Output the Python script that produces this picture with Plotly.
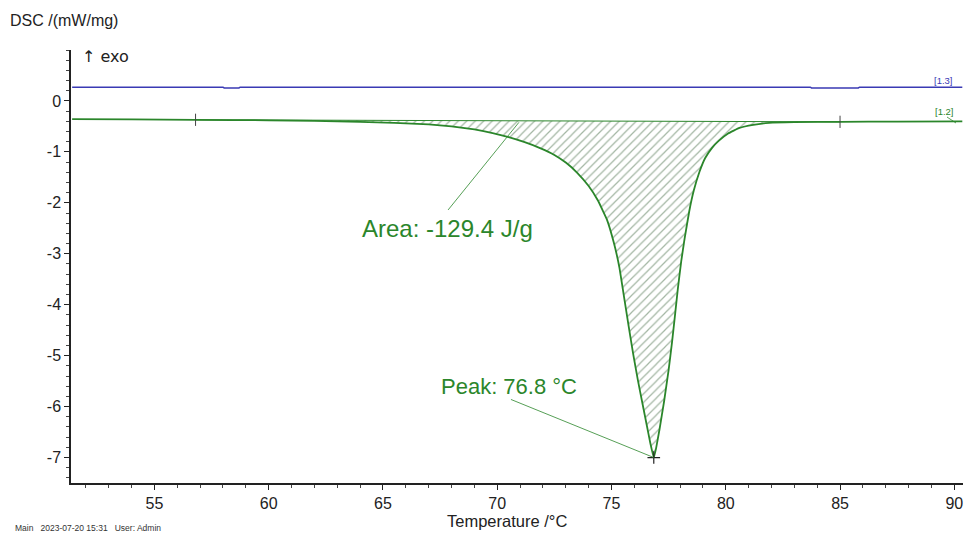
import plotly.graph_objects as go

# ---- data ----
temp_green = [51.4, 54.0, 56.8, 60.0, 62.0, 64.0, 65.5, 67.0, 68.0, 69.0, 69.8, 70.5, 71.2, 71.9,
              72.5, 73.0, 73.5, 74.0, 74.4, 74.8, 75.1, 75.35, 75.55, 75.75, 75.95, 76.15, 76.35, 76.55,
              76.7, 76.85, 76.95, 77.1, 77.3, 77.5, 77.65, 77.78, 77.9, 78.05, 78.2, 78.4, 78.6,
              78.85, 79.1, 79.4, 79.7, 80.1, 80.6, 81.2, 81.9, 83.0, 85.0, 87.5, 90.35]
dsc_green = [-0.355, -0.36, -0.37, -0.38, -0.39, -0.41, -0.43, -0.46, -0.50, -0.56, -0.63, -0.71, -0.81, -0.93,
             -1.06, -1.21, -1.41, -1.67, -1.95, -2.33, -2.78, -3.28, -3.85, -4.42, -4.97, -5.47, -5.93, -6.38,
             -6.72, -7.00, -6.82, -6.45, -5.90, -5.28, -4.73, -4.20, -3.70, -3.15, -2.70, -2.17, -1.76,
             -1.39, -1.12, -0.92, -0.78, -0.64, -0.53, -0.47, -0.43, -0.415, -0.41, -0.405, -0.40]

temp_blue = [51.4, 58.0, 58.05, 58.7, 58.75, 70.0, 80.0, 83.7, 83.75, 85.8, 85.85, 90.35]
dsc_blue = [0.27, 0.27, 0.255, 0.255, 0.27, 0.27, 0.27, 0.27, 0.255, 0.255, 0.27, 0.27]

baseline_T = [56.8, 85.0]
baseline_dsc = [-0.37, -0.41]

peak_T, peak_dsc = 76.85, -7.0
area_text = "Area: -129.4 J/g"
peak_text = "Peak: 76.8 °C"

x_ticks = [55, 60, 65, 70, 75, 80, 85, 90]
y_ticks = [0, -1, -2, -3, -4, -5, -6, -7]

GREEN = "#2b862b"
BLUE = "#3a3ab4"
FONT = "Liberation Sans, Arial, sans-serif"

# plot geometry (pixels)
W, H = 966, 533
L, R, T, B = 71, 3, 50, 50
PW, PH = W - L - R, H - T - B


def px(xp):
    return (xp - L) / PW


def py(yp):
    return (H - B - yp) / PH


# hatched area polygon: curve between baseline limits, then baseline back
poly_T, poly_D = [], []
for t, d in zip(temp_green, dsc_green):
    if baseline_T[0] <= t <= baseline_T[1]:
        poly_T.append(t)
        poly_D.append(d)
poly_T += [baseline_T[1], baseline_T[0]]
poly_D += [baseline_dsc[1], baseline_dsc[0]]

fig = go.Figure()
fig.add_trace(go.Scatter(
    x=poly_T, y=poly_D, fill="toself", mode="none",
    fillcolor="rgba(255,255,255,0)",
    fillpattern=dict(shape="/", fgcolor="rgba(60,100,60,0.95)", bgcolor="rgba(255,255,255,0)",
                     size=6, solidity=0.2),
    hoverinfo="skip", showlegend=False))
fig.add_trace(go.Scatter(x=baseline_T, y=baseline_dsc, mode="lines",
                         line=dict(color=GREEN, width=1), showlegend=False))
fig.add_trace(go.Scatter(x=temp_green, y=dsc_green, mode="lines",
                         line=dict(color=GREEN, width=1.8, shape="spline", smoothing=0.3),
                         showlegend=False))
fig.add_trace(go.Scatter(x=temp_blue, y=dsc_blue, mode="lines",
                         line=dict(color=BLUE, width=1.5), showlegend=False))
fig.add_trace(go.Scatter(x=[peak_T], y=[peak_dsc], mode="markers",
                         marker=dict(symbol="cross-thin", size=9, line=dict(color="#222", width=1.2)),
                         showlegend=False))

shapes = []
# baseline limit markers
for bt, bd in zip(baseline_T, baseline_dsc):
    shapes.append(dict(type="line", xref="x", yref="y", x0=bt, x1=bt, y0=bd - 0.12, y1=bd + 0.12,
                       line=dict(color="#444", width=1)))
# leader lines
shapes.append(dict(type="line", xref="x", yref="y", x0=67.85, y0=-2.14, x1=70.95, y1=-0.42,
                   line=dict(color=GREEN, width=0.8)))
shapes.append(dict(type="line", xref="x", yref="y", x0=70.6, y0=-5.86, x1=peak_T, y1=peak_dsc,
                   line=dict(color=GREEN, width=0.8)))
shapes.append(dict(type="line", xref="paper", yref="paper", x0=px(947), y0=py(117), x1=px(956), y1=py(123),
                   line=dict(color=GREEN, width=0.8)))

annotations = [
    dict(x=px(8), y=py(20), xref="paper", yref="paper", text="DSC /(mW/mg)", showarrow=False,
         xanchor="left", yanchor="middle", font=dict(size=16, color="#222", family=FONT)),
    dict(x=px(80), y=py(56), xref="paper", yref="paper", text="↑ exo", showarrow=False,
         xanchor="left", yanchor="middle", font=dict(size=16, color="#222", family="DejaVu Sans, sans-serif")),
    dict(x=px(507), y=py(521), xref="paper", yref="paper", text="Temperature /°C", showarrow=False,
         xanchor="center", yanchor="middle", font=dict(size=16.5, color="#222", family=FONT)),
    dict(x=px(13), y=py(528), xref="paper", yref="paper",
         text="Main&nbsp;&nbsp;&nbsp;2023-07-20 15:31&nbsp;&nbsp;&nbsp;User: Admin", showarrow=False,
         xanchor="left", yanchor="middle", font=dict(size=8.5, color="#333", family=FONT)),
    dict(x=px(360), y=py(228), xref="paper", yref="paper", text=area_text, showarrow=False,
         xanchor="left", yanchor="middle", font=dict(size=24, color=GREEN, family=FONT)),
    dict(x=px(439), y=py(386), xref="paper", yref="paper", text=peak_text, showarrow=False,
         xanchor="left", yanchor="middle", font=dict(size=22, color=GREEN, family=FONT)),
    dict(x=px(955), y=py(80), xref="paper", yref="paper", text="[1.3]", showarrow=False,
         xanchor="right", yanchor="middle", font=dict(size=9.5, color=BLUE, family=FONT)),
    dict(x=px(956), y=py(111), xref="paper", yref="paper", text="[1.2]", showarrow=False,
         xanchor="right", yanchor="middle", font=dict(size=9.5, color=GREEN, family=FONT)),
]

fig.update_layout(
    width=W, height=H, margin=dict(l=L, r=R, t=T, b=B, pad=0),
    paper_bgcolor="white", plot_bgcolor="white",
    font=dict(family=FONT, color="#222"),
    shapes=shapes, annotations=annotations, showlegend=False,
    xaxis=dict(range=[51.35, 90.38], tickvals=x_ticks, ticktext=[str(v) for v in x_ticks],
               showgrid=False, zeroline=False, showline=True, linecolor="#222", linewidth=1.5,
               ticks="outside", ticklen=5, tickcolor="#222", tickfont=dict(size=16, color="#222"),
               minor=dict(dtick=1, tick0=55, ticks="outside", ticklen=3, tickcolor="#444", showgrid=False)),
    yaxis=dict(range=[-7.5, 1.0], tickvals=y_ticks, ticktext=[str(v) for v in y_ticks],
               showgrid=False, zeroline=False, showline=True, linecolor="#222", linewidth=1.5,
               ticks="outside", ticklen=5, tickcolor="#222", tickfont=dict(size=16, color="#222"),
               minor=dict(dtick=0.2, tick0=0, ticks="outside", ticklen=3, tickcolor="#444", showgrid=False)),
)

fig.write_html("out.html")
